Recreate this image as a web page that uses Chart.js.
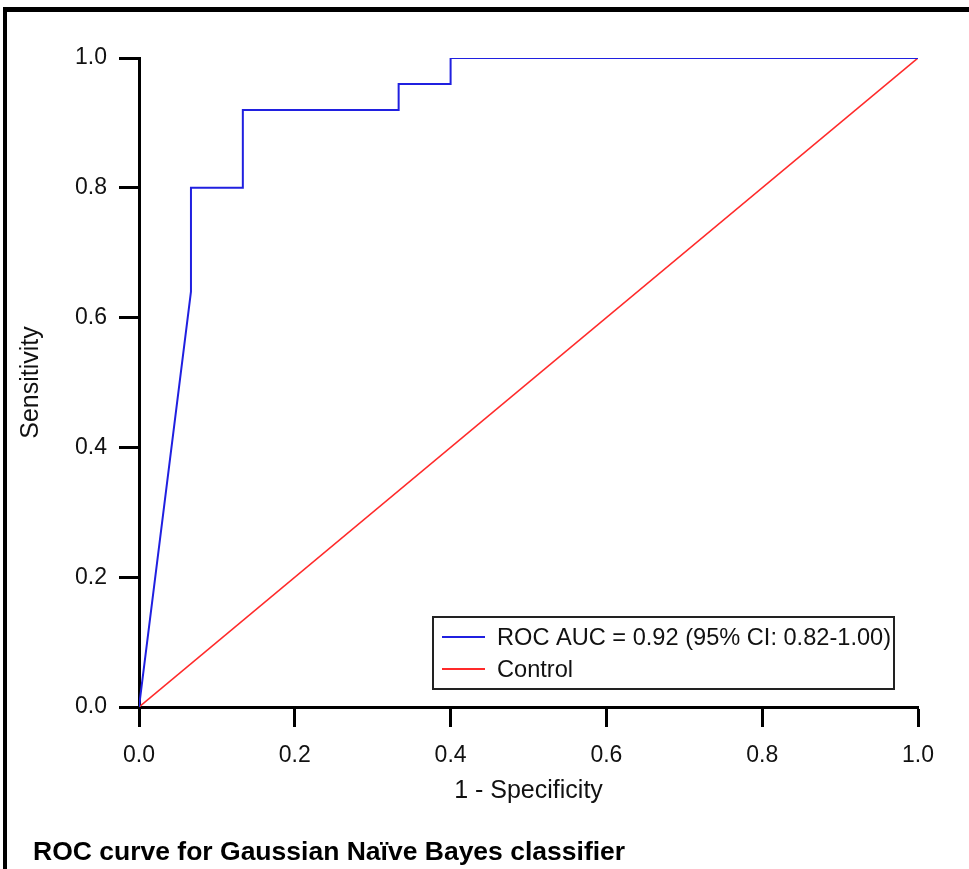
<!DOCTYPE html>
<html>
<head>
<meta charset="utf-8">
<script src="https://cdn.jsdelivr.net/npm/chart.js@4/dist/chart.umd.min.js"></script>
<style>
  html, body { margin: 0; padding: 0; background: #fff; }
  #wrap { position: relative; width: 969px; height: 869px; }
</style>
</head>
<body>
<div id="wrap"><canvas id="c" width="969" height="869"></canvas></div>
<script>
// ---- data ----
const rocFpr = [0, 0.0667, 0.0667, 0.1333, 0.1333, 0.3333, 0.3333, 0.4, 0.4, 1.0];
const rocTpr = [0, 0.64, 0.80, 0.80, 0.92, 0.92, 0.96, 0.96, 1.0, 1.0];
const controlX = [0, 1];
const controlY = [0, 1];
const tickValues = [0, 0.2, 0.4, 0.6, 0.8, 1.0];
const rocLabel = 'ROC AUC = 0.92 (95% CI: 0.82-1.00)';
const controlLabel = 'Control';
const xTitle = '1 - Specificity';
const yTitle = 'Sensitivity';
const caption = 'ROC curve for Gaussian Naïve Bayes classifier';

const FONT = "'Liberation Sans', Arial, sans-serif";

const framePlugin = {
  id: 'frame',
  beforeDraw(chart) {
    const ctx = chart.ctx;
    ctx.save();
    ctx.fillStyle = '#fff';
    ctx.fillRect(0, 0, chart.width, chart.height);
    ctx.fillStyle = '#000';
    ctx.fillRect(3, 7, 4, chart.height);
    ctx.fillRect(3, 7, chart.width, 5);
    ctx.restore();
  },
  afterDraw(chart) {
    const ctx = chart.ctx;
    ctx.save();
    // caption
    ctx.fillStyle = '#000';
    ctx.font = "bold 26.5px " + FONT;
    ctx.textBaseline = 'middle';
    ctx.textAlign = 'left';
    ctx.fillText(caption, 33, 853);
    // legend box
    const bx = 433, by = 617, bw = 461, bh = 72;
    ctx.lineWidth = 2;
    ctx.strokeStyle = '#222';
    ctx.strokeRect(bx, by, bw, bh);
    ctx.font = "23.6px " + FONT;
    ctx.fillStyle = '#111';
    chart.data.datasets.forEach((ds, i) => {
      const y = by + 20 + i * 32;
      ctx.beginPath();
      ctx.strokeStyle = ds.borderColor;
      ctx.lineWidth = 2;
      ctx.moveTo(bx + 9, y);
      ctx.lineTo(bx + 52, y);
      ctx.stroke();
      ctx.fillText(ds.label, bx + 64, y + 1);
    });
    ctx.restore();
  }
};

const rocPoints = rocFpr.map((x, i) => ({ x: x, y: rocTpr[i] }));
const ctrlPoints = controlX.map((x, i) => ({ x: x, y: controlY[i] }));

function axisCommon(title) {
  return {
    type: 'linear',
    min: 0,
    max: 1,
    afterBuildTicks(scale) { scale.ticks = tickValues.map(v => ({ value: v })); },
    ticks: {
      color: '#111',
      font: { family: FONT, size: 23 },
      callback: v => Number(v).toFixed(1),
    },
    grid: {
      display: true,
      drawOnChartArea: false,
      drawTicks: true,
      tickLength: 20,
      tickWidth: 3,
      tickColor: '#000',
    },
    border: { display: true, color: '#000', width: 3 },
    title: {
      display: true,
      text: title,
      color: '#111',
      font: { family: FONT, size: 25 },
      padding: { top: 3, bottom: 2 },
    },
  };
}

const xAxis = axisCommon(xTitle);
xAxis.ticks.padding = 15;
xAxis.afterFit = s => { s.height = 101; };
const yAxis = axisCommon(yTitle);
yAxis.ticks.padding = 12;
yAxis.afterFit = s => { s.width = 126; };

new Chart(document.getElementById('c'), {
  type: 'scatter',
  data: {
    datasets: [
      {
        label: rocLabel,
        data: rocPoints,
        showLine: true,
        borderColor: '#2020e0',
        borderWidth: 2,
        pointRadius: 0,
        fill: false,
        tension: 0,
      },
      {
        label: controlLabel,
        data: ctrlPoints,
        showLine: true,
        borderColor: '#ff2a2a',
        borderWidth: 1.6,
        pointRadius: 0,
        fill: false,
        tension: 0,
      },
    ],
  },
  options: {
    responsive: false,
    animation: false,
    devicePixelRatio: 1,
    layout: { padding: { left: 13, top: 58, right: 51, bottom: 61 } },
    plugins: {
      legend: { display: false },
      tooltip: { enabled: false },
      title: { display: false },
    },
    scales: { x: xAxis, y: yAxis },
  },
  plugins: [framePlugin],
});
</script>
</body>
</html>
